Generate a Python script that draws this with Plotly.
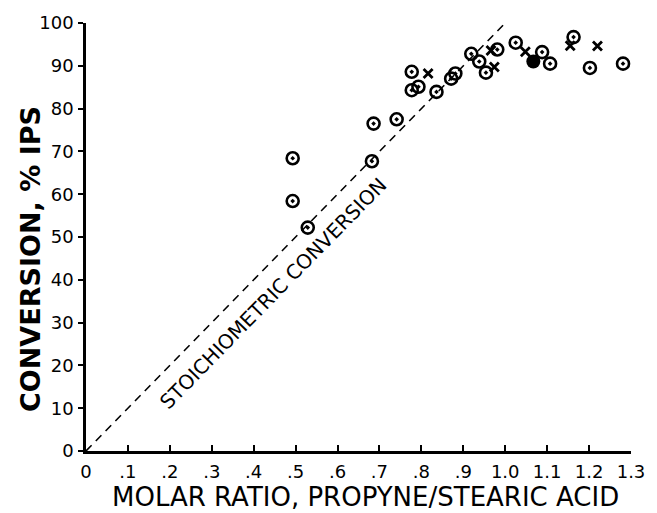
import plotly.graph_objects as go

# Data
circ_x = [0.493, 0.493, 0.529, 0.682, 0.686, 0.741, 0.777, 0.777, 0.793, 0.836,
          0.871, 0.881, 0.919, 0.938, 0.954, 0.981, 1.025, 1.088, 1.107, 1.163,
          1.202, 1.281]
circ_y = [68.4, 58.4, 52.2, 67.7, 76.5, 77.5, 88.6, 84.3, 85.1, 83.9,
          87.0, 88.2, 92.8, 91.0, 88.4, 93.8, 95.4, 93.2, 90.5, 96.7,
          89.5, 90.5]
filled_x = [1.067]
filled_y = [91.0]
cross_x = [0.816, 0.966, 0.974, 1.048, 1.155, 1.220]
cross_y = [88.2, 93.6, 89.7, 93.3, 94.7, 94.6]
stoich_x = [0.0, 1.0]
stoich_y = [0.0, 100.0]

x_ticks = [0, 0.1, 0.2, 0.3, 0.4, 0.5, 0.6, 0.7, 0.8, 0.9, 1.0, 1.1, 1.2, 1.3]
x_ticklabels = ["0", ".1", ".2", ".3", ".4", ".5", ".6", ".7", ".8", ".9", "1.0", "1.1", "1.2", "1.3"]
y_ticks = [0, 10, 20, 30, 40, 50, 60, 70, 80, 90, 100]

FONT = "DejaVu Sans"

fig = go.Figure()
fig.add_trace(go.Scatter(x=stoich_x, y=stoich_y, mode="lines",
                         line=dict(color="black", width=1.6, dash="8px,6px"),
                         hoverinfo="skip", showlegend=False))
fig.add_trace(go.Scatter(x=circ_x, y=circ_y, mode="markers",
                         marker=dict(symbol="circle-open-dot", size=12, color="black",
                                     line=dict(width=2.6, color="black")),
                         showlegend=False))
fig.add_trace(go.Scatter(x=filled_x, y=filled_y, mode="markers",
                         marker=dict(symbol="circle", size=14, color="black"),
                         showlegend=False))
fig.add_trace(go.Scatter(x=cross_x, y=cross_y, mode="markers",
                         marker=dict(symbol="x-thin", size=9, color="black",
                                     line=dict(width=2.8, color="black")),
                         showlegend=False))

fig.update_layout(
    width=657, height=513,
    margin=dict(l=86, r=21, t=19, b=62),
    paper_bgcolor="white", plot_bgcolor="white",
    font=dict(family=FONT, color="black"),
    xaxis=dict(range=[0, 1.3], tickvals=x_ticks, ticktext=x_ticklabels,
               showgrid=False, zeroline=False, showline=True, linecolor="black",
               linewidth=2.5, ticks="inside", ticklen=6, tickwidth=1.5,
               tickcolor="black", tickfont=dict(size=18, family=FONT),
               ticklabelstandoff=3),
    yaxis=dict(range=[0, 100], tickvals=y_ticks,
               showgrid=False, zeroline=False, showline=True, linecolor="black",
               linewidth=2.5, ticks="outside", ticklen=5, tickwidth=1.5,
               tickcolor="black", tickfont=dict(size=18, family=FONT),
               ticklabelstandoff=1),
    annotations=[
        dict(text="STOICHIOMETRIC CONVERSION", x=0.447, y=37, xref="x", yref="y",
             showarrow=False, textangle=-45.6, font=dict(size=20, family=FONT)),
        dict(text="<b>CONVERSION, % IPS</b>", x=0, y=0.5, xref="paper", yref="paper",
             xanchor="center", yanchor="middle", xshift=-56, yshift=-22,
             showarrow=False, textangle=-90, font=dict(size=27, family=FONT)),
        dict(text="MOLAR RATIO, PROPYNE/STEARIC ACID", x=0.5, y=0, xref="paper",
             yref="paper", yanchor="middle", yshift=-46, xshift=7, showarrow=False,
             font=dict(size=26, family=FONT)),
    ],
)

fig.write_html("out.html")
